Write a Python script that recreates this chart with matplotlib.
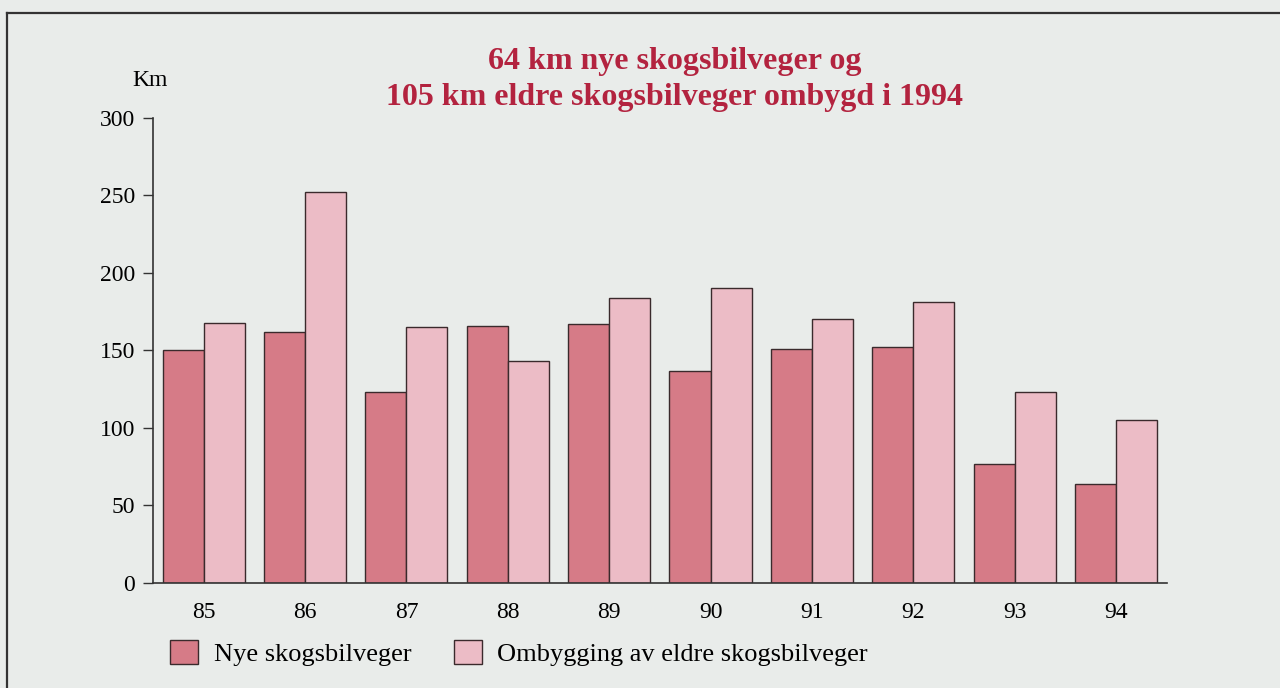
import numpy as np
import matplotlib.pyplot as plt
from matplotlib.patches import Patch
from matplotlib.lines import Line2D

years = ['85', '86', '87', '88', '89', '90', '91', '92', '93', '94']
nye = [150, 162, 123, 166, 167, 137, 151, 152, 77, 64]
ombygging = [168, 252, 165, 143, 184, 190, 170, 181, 123, 105]

bg = '#e9ecea'
dark = '#d67b87'
light = '#ecbcc6'
title_col = '#b3233f'

plt.rcParams['font.family'] = ['Liberation Serif', 'DejaVu Serif']

fig = plt.figure(figsize=(12.8, 6.88), dpi=100, facecolor=bg)
ax = fig.add_axes([0.1195, 0.1526, 0.792, 0.676])
ax.set_facecolor(bg)

x = np.arange(len(years))
w = 0.405
ax.bar(x - w / 2, nye, width=w, color=dark, edgecolor='#3a2a2c', linewidth=1.0)
ax.bar(x + w / 2, ombygging, width=w, color=light, edgecolor='#3a2a2c', linewidth=1.0)

ax.set_xlim(-0.5, 9.5)
ax.set_ylim(0, 300)
ax.set_yticks(range(0, 301, 50))
ax.set_xticks(x)
ax.set_xticklabels(years)
ax.tick_params(axis='x', length=0, pad=14, labelsize=17)
ax.tick_params(axis='y', length=7, width=1, pad=6, labelsize=17, color='#333333')
for s in ['top', 'right']:
    ax.spines[s].set_visible(False)
for s in ['left', 'bottom']:
    ax.spines[s].set_color('#333333')
    ax.spines[s].set_linewidth(1.2)

fig.text(150 / 1280, 1 - 80 / 688, 'Km', ha='center', va='center', fontsize=17)
fig.text(675 / 1280, 1 - 62 / 688, '64 km nye skogsbilveger og', ha='center', va='center',
         fontsize=23, fontweight='bold', color=title_col)
fig.text(675 / 1280, 1 - 97 / 688, '105 km eldre skogsbilveger ombygd i 1994', ha='center', va='center',
         fontsize=23, fontweight='bold', color=title_col)

# frame round the figure
fig.add_artist(Line2D([7 / 1280, 7 / 1280], [0, 1 - 13 / 688], transform=fig.transFigure, color='#333333', lw=1.6))
fig.add_artist(Line2D([7 / 1280, 1], [1 - 13 / 688, 1 - 13 / 688], transform=fig.transFigure, color='#333333', lw=1.6))

handles = [Patch(facecolor=dark, edgecolor='#3a2a2c', label='Nye skogsbilveger'),
           Patch(facecolor=light, edgecolor='#3a2a2c', label='Ombygging av eldre skogsbilveger')]
fig.legend(handles=handles, loc='center left', bbox_to_anchor=(170 / 1280, 1 - 653 / 688), ncol=2,
           frameon=False, fontsize=19, handlelength=1.06, handleheight=1.06, handletextpad=0.6,
           columnspacing=1.6, borderpad=0, borderaxespad=0)

fig.savefig('out.png', dpi=100, facecolor=bg)
